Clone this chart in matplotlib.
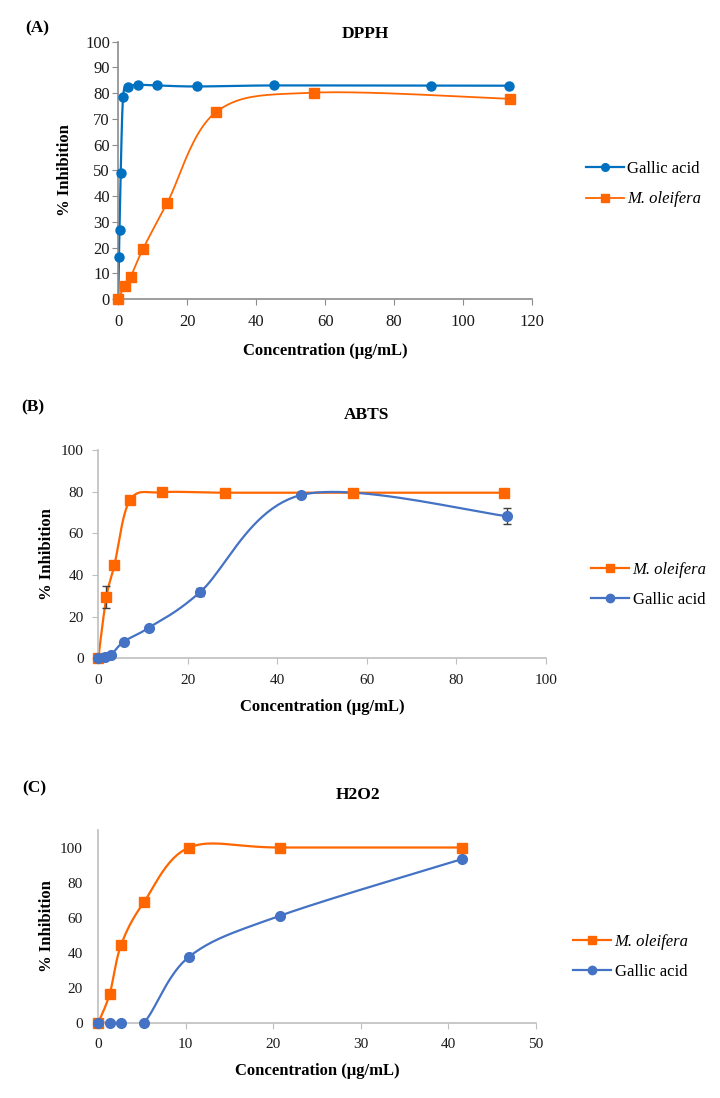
import matplotlib
matplotlib.use("Agg")
import matplotlib.pyplot as plt
from matplotlib.lines import Line2D
import numpy as np

plt.rcParams['font.family'] = ['Liberation Serif', 'DejaVu Serif']

# (A) DPPH
dpph_gallic_x = [0, 0.18, 0.35, 0.7, 1.4, 2.8, 5.7, 11.3, 22.7, 45.3, 90.6, 113.3]
dpph_gallic_y = [0, 16.4, 26.8, 48.9, 78.6, 82.4, 83.2, 83.0, 82.6, 83.0, 82.9, 82.9]
dpph_mo_x = [0, 1.8, 3.6, 7.1, 14.2, 28.4, 56.8, 113.6]
dpph_mo_y = [0, 5.2, 8.7, 19.3, 37.4, 72.7, 80.2, 77.8]

# (B) ABTS
abts_mo_x = [0, 1.8, 3.6, 7.1, 14.2, 28.4, 56.8, 90.6]
abts_mo_y = [0, 29.3, 44.8, 76.0, 79.7, 79.5, 79.5, 79.5]
abts_mo_err = [0, 5.2, 0, 0, 0, 0, 0, 0]
abts_gallic_x = [0, 1.4, 2.8, 5.7, 11.3, 22.7, 45.3, 91.2]
abts_gallic_y = [0, 0.8, 1.6, 8.0, 14.7, 31.7, 78.4, 68.3]
abts_gallic_err = [0, 0, 0, 0, 0, 2.0, 0, 3.8]

# (C) H2O2
h2o2_x = [0, 1.3, 2.6, 5.2, 10.4, 20.8, 41.6]
h2o2_mo_y = [0, 16.4, 44.3, 68.7, 100, 100, 100]
h2o2_gallic_y = [0, 0, 0, 0, 37.7, 61.1, 93.4]

ORANGE = '#FF6600'
BLUE_A = '#0070C0'
BLUE = '#4472C4'
W, H = 720, 1098


def smooth(x, y, n=25):
    # Excel-like smoothed line (Catmull-Rom bezier through the points)
    p = np.column_stack([x, y]).astype(float)
    p = np.vstack([p[0], p, p[-1]])
    t = np.linspace(0, 1, n)[:, None]
    segs = []
    for i in range(1, len(p) - 2):
        p0, p1, p2, p3 = p[i - 1], p[i], p[i + 1], p[i + 2]
        c1 = p1 + (p2 - p0) / 6
        c2 = p2 - (p3 - p1) / 6
        segs.append((1 - t) ** 3 * p1 + 3 * (1 - t) ** 2 * t * c1
                    + 3 * (1 - t) * t ** 2 * c2 + t ** 3 * p2)
    s = np.vstack(segs)
    return s[:, 0], s[:, 1]


def series(ax, x, y, color, marker, ms, lw, err=None):
    sx, sy = smooth(x, y)
    ax.plot(sx, sy, color=color, lw=lw, zorder=2)
    if err is not None:
        ax.errorbar(x, y, yerr=err, fmt='none', ecolor='#404040',
                    elinewidth=1, capsize=3, zorder=3, clip_on=False)
    ax.plot(x, y, ls='none', marker=marker, ms=ms, color=color,
            zorder=4, clip_on=False)
    return Line2D([], [], color=color, lw=lw, marker=marker, ms=ms - 1)


def px_axes(fig, x0, x1, y_top, y_bot):
    return fig.add_axes([x0 / W, 1 - y_bot / H, (x1 - x0) / W, (y_bot - y_top) / H])


def style(ax, spine_color, size=11, ypad=6.5, tick_len_y=4):
    for s in ['top', 'right']:
        ax.spines[s].set_visible(False)
    for s in ['left', 'bottom']:
        ax.spines[s].set_color(spine_color)
        ax.spines[s].set_linewidth(1.2)
    ax.tick_params(axis='x', direction='out', length=4, color=spine_color,
                   labelsize=size, pad=7, labelcolor='#1a1a1a')
    ax.tick_params(axis='y', direction='out', length=tick_len_y, color=spine_color,
                   labelsize=size, pad=ypad, labelcolor='#1a1a1a')


fig = plt.figure(figsize=(W / 100, H / 100), dpi=100)

# ---- (A) DPPH
ax = px_axes(fig, 118.3, 532, 41.7, 299)
h1 = series(ax, dpph_gallic_x, dpph_gallic_y, BLUE_A, 'o', 6.5, 1.6)
h2 = series(ax, dpph_mo_x, dpph_mo_y, ORANGE, 's', 7, 1.3)
ax.set_xlim(0, 120)
ax.set_ylim(0, 100)
ax.set_xticks(np.arange(0, 121, 20))
ax.set_yticks(np.arange(0, 101, 10))
style(ax, '#8C8C8C', size=12, ypad=2)
ax.set_xlabel('Concentration (μg/mL)', fontsize=12, fontweight='bold', labelpad=9)
ax.set_ylabel('% Inhibition', fontsize=12, fontweight='bold', labelpad=9)
leg = ax.legend([h1, h2], ['Gallic acid', 'M. oleifera'], loc='center left',
                bbox_to_anchor=(585.7 / W, 1 - 184.3 / H), bbox_transform=fig.transFigure,
                frameon=False, fontsize=12, handlelength=2.3, handletextpad=0.2,
                labelspacing=0.85, borderpad=0, borderaxespad=0)
leg.get_texts()[1].set_fontstyle('italic')
fig.text(365 / W, 1 - 34 / H, 'DPPH', ha='center', va='center', fontsize=12.5, fontweight='bold')
fig.text(37.5 / W, 1 - 28.5 / H, '(A)', ha='center', va='center', fontsize=12.5, fontweight='bold')

# ---- (B) ABTS
ax = px_axes(fig, 98.3, 546, 450, 658.3)
h1 = series(ax, abts_mo_x, abts_mo_y, ORANGE, 's', 7, 1.6, abts_mo_err)
h2 = series(ax, abts_gallic_x, abts_gallic_y, BLUE, 'o', 7, 1.6, abts_gallic_err)
ax.set_xlim(0, 100)
ax.set_ylim(0, 100)
ax.set_xticks(np.arange(0, 101, 20))
ax.set_yticks(np.arange(0, 101, 20))
style(ax, '#BFBFBF')
ax.set_xlabel('Concentration (μg/mL)', fontsize=12, fontweight='bold', labelpad=9)
ax.set_ylabel('% Inhibition', fontsize=12, fontweight='bold', labelpad=4)
leg = ax.legend([h1, h2], ['M. oleifera', 'Gallic acid'], loc='center left',
                bbox_to_anchor=(591 / W, 1 - 585 / H), bbox_transform=fig.transFigure,
                frameon=False, fontsize=12, handlelength=2.3, handletextpad=0.2,
                labelspacing=0.85, borderpad=0, borderaxespad=0)
leg.get_texts()[0].set_fontstyle('italic')
fig.text(367 / W, 1 - 415 / H, 'ABTS', ha='center', va='center', fontsize=12.5, fontweight='bold')
fig.text(33 / W, 1 - 407 / H, '(B)', ha='center', va='center', fontsize=12.5, fontweight='bold')

# ---- (C) H2O2
ax = px_axes(fig, 98.3, 535.5, 830, 1022.7)
h1 = series(ax, h2o2_x, h2o2_mo_y, ORANGE, 's', 7, 1.6)
h2 = series(ax, h2o2_x, h2o2_gallic_y, BLUE, 'o', 7, 1.6)
ax.set_xlim(0, 50)
ax.set_ylim(0, 110)
ax.set_xticks(np.arange(0, 51, 10))
ax.set_yticks(np.arange(0, 101, 20))
style(ax, '#BFBFBF', ypad=11, tick_len_y=0)
ax.set_xlabel('Concentration (μg/mL)', fontsize=12, fontweight='bold', labelpad=9)
ax.set_ylabel('% Inhibition', fontsize=12, fontweight='bold', labelpad=4)
leg = ax.legend([h1, h2], ['M. oleifera', 'Gallic acid'], loc='center left',
                bbox_to_anchor=(573 / W, 1 - 957 / H), bbox_transform=fig.transFigure,
                frameon=False, fontsize=12, handlelength=2.3, handletextpad=0.2,
                labelspacing=0.85, borderpad=0, borderaxespad=0)
leg.get_texts()[0].set_fontstyle('italic')
fig.text(358 / W, 1 - 795 / H, 'H2O2', ha='center', va='center', fontsize=12.5, fontweight='bold')
fig.text(34 / W, 1 - 788 / H, '(C)', ha='center', va='center', fontsize=12.5, fontweight='bold')

fig.savefig('out.png', dpi=100)
